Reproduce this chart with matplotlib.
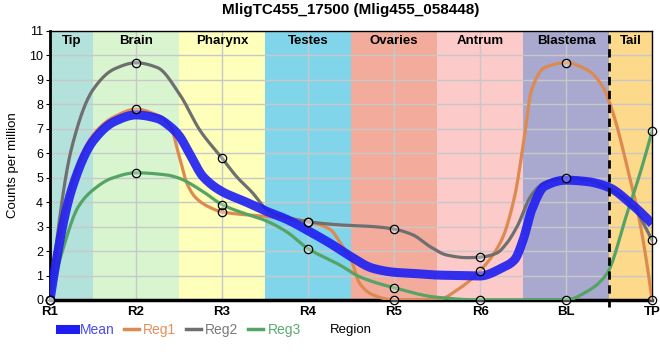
import matplotlib
matplotlib.use("Agg")
import matplotlib.pyplot as plt
import numpy as np
from matplotlib.lines import Line2D

plt.rcParams["font.family"] = ["Liberation Sans", "DejaVu Sans"]

regions = ["R1", "R2", "R3", "R4", "R5", "R6", "BL", "TP"]
reg1 = [0, 7.8, 3.6, 3.2, 0.0, 1.2, 9.7, 0.0]
reg2 = [0, 9.7, 5.8, 3.2, 2.9, 1.75, 5.0, 2.45]
reg3 = [0, 5.2, 3.9, 2.1, 0.5, 0.0, 0.0, 6.9]
mean = list(np.mean([reg1, reg2, reg3], axis=0))

# curve values read between the regions (smoothed line shape)
mean_kx = [0.25, 0.5, 0.75, 1.25, 1.4, 1.5, 1.62, 1.78, 2.25, 2.5, 2.75, 3.25, 3.5, 3.75, 4.25,
           4.5, 4.75, 5.25, 5.4, 5.5, 5.6, 5.75, 6.25, 6.5, 6.75]
mean_ky = [4.5, 6.5, 7.3, 7.42, 7.08, 6.72, 6.0, 5.04, 4.05, 3.65, 3.3, 2.33, 1.77, 1.3, 1.08,
           1.02, 1.0, 1.3, 1.64, 2.45, 3.68, 4.65, 4.84, 4.6, 3.95]
reg1_kx = [0.25, 0.5, 0.75, 1.25, 1.4, 1.5, 1.6, 1.7, 1.85, 2.5, 2.75, 3.25, 3.4, 3.5, 3.6, 3.76,
           4.5, 4.75, 5.25, 5.4, 5.5, 5.6, 5.75, 6.25, 6.43, 6.55, 6.71, 6.86]
reg1_ky = [4.7, 6.75, 7.5, 7.55, 7.1, 5.9, 4.7, 4.16, 3.8, 3.42, 3.33, 2.9, 2.2, 1.64, 0.68, 0.2,
           0.0, 0.45, 2.45, 4.2, 6.3, 8.6, 9.5, 9.4, 8.7, 7.6, 5.45, 3.14]
reg2_kx = [0.25, 0.5, 0.75, 1.25, 1.5, 1.75, 2.17, 2.36, 2.48, 2.56, 2.75, 3.37, 3.76, 4.22, 4.42,
           4.61, 4.85, 5.19, 5.31, 5.43, 5.6, 5.75, 6.25, 6.5, 6.78, 6.94]
reg2_ky = [6.2, 8.6, 9.45, 9.5, 8.45, 6.9, 5.04, 4.36, 3.84, 3.61, 3.38, 3.07, 3.0, 2.66, 2.18,
           1.84, 1.73, 1.91, 2.32, 3.0, 4.3, 4.8, 4.9, 4.55, 3.82, 2.86]
reg3_kx = [0.136, 0.33, 0.5, 0.72, 1.36, 1.5, 1.78, 2.25, 2.49, 2.75, 3.37, 3.6, 4.5,
           6.24, 6.47, 6.71, 6.86]
reg3_ky = [1.91, 3.82, 4.5, 4.98, 5.11, 4.98, 4.43, 3.55, 3.27, 2.79, 1.43, 0.95, 0.11,
           0.34, 1.05, 3.55, 5.18]

band_names = ["Tip", "Brain", "Pharynx", "Testes", "Ovaries", "Antrum", "Blastema", "Tail"]
band_edges = [0, 0.5, 1.5, 2.5, 3.5, 4.5, 5.5, 6.5, 7]
band_colors = ["#b3e2dd", "#d9f5d0", "#feffba", "#80d5ea", "#f3ab9c", "#fdcaca", "#a9a8cf", "#fdd98b"]


def pchip(x, y, n=30):
    x = np.asarray(x, float)
    y = np.asarray(y, float)
    h = np.diff(x)
    d = np.diff(y) / h
    m = np.zeros(len(y))
    for k in range(1, len(y) - 1):
        if d[k - 1] * d[k] > 0:
            w1 = 2 * h[k] + h[k - 1]
            w2 = h[k] + 2 * h[k - 1]
            m[k] = (w1 + w2) / (w1 / d[k - 1] + w2 / d[k])
    for k, (a, b, ha, hb) in [(0, (0, 1, 0, 1)), (-1, (-1, -2, -1, -2))]:
        s0, s1, h0, h1 = d[a], d[b], h[ha], h[hb]
        v = ((2 * h0 + h1) * s0 - h0 * s1) / (h0 + h1)
        if np.sign(v) != np.sign(s0):
            v = 0
        elif np.sign(s0) != np.sign(s1) and abs(v) > 3 * abs(s0):
            v = 3 * s0
        m[k] = v
    xs, ys = [], []
    for i in range(len(y) - 1):
        u = np.linspace(0, 1, n)
        xs.append(x[i] + u * h[i])
        ys.append((2 * u**3 - 3 * u**2 + 1) * y[i] + (u**3 - 2 * u**2 + u) * h[i] * m[i]
                  + (-2 * u**3 + 3 * u**2) * y[i + 1] + (u**3 - u**2) * h[i] * m[i + 1])
    return np.concatenate(xs), np.concatenate(ys)


def curve(vals, kx, ky):
    pts = sorted(list(zip(range(len(vals)), vals)) + list(zip(kx, ky)))
    return pchip([p[0] for p in pts], [p[1] for p in pts])


fig = plt.figure(figsize=(6.6, 3.6), dpi=100)
ax = fig.add_axes([0.0758, 0.1667, 0.9122, 0.7473])

for i, name in enumerate(band_names):
    ax.axvspan(band_edges[i], band_edges[i + 1], color=band_colors[i], zorder=0, lw=0)
    ax.text((band_edges[i] + band_edges[i + 1]) / 2, 10.82, name, ha="center", va="top",
            fontsize=9.5, fontweight="bold", zorder=5)

ax.grid(color="#c8c8c8", lw=1, zorder=1)
ax.set_axisbelow(True)

cols = {"Reg1": "#dd8a50", "Reg2": "#6f6f6f", "Reg3": "#55a465"}
for name, vals, kx, ky in [("Reg1", reg1, reg1_kx, reg1_ky), ("Reg2", reg2, reg2_kx, reg2_ky),
                           ("Reg3", reg3, reg3_kx, reg3_ky)]:
    xs, ys = curve(vals, kx, ky)
    ax.plot(xs, ys, color=cols[name], lw=2.3, zorder=3)
    ax.plot(range(len(vals)), vals, ls="none", marker="o", ms=6, mec="black", mew=0.9,
            mfc=(1, 1, 1, 0.3), zorder=6, clip_on=False)

xs, ys = curve(mean, mean_kx, mean_ky)
ax.plot(xs, ys, color="#1e1ef2", lw=6.5, alpha=0.9, zorder=4, solid_capstyle="butt")

ax.plot([6.5, 6.5], [-0.3, 11], color="black", ls=(0, (3, 2)), lw=2, zorder=7, clip_on=False)

ax.set_xlim(0, 7)
ax.set_ylim(0, 11)
ax.set_xticks(range(len(regions)))
ax.set_xticklabels(regions, fontweight="bold", fontsize=9.5)
ax.set_yticks(range(12))
ax.tick_params(axis="y", labelsize=9, length=3, pad=2)
ax.tick_params(axis="x", length=0, pad=4)
ax.spines["left"].set_linewidth(2)
ax.spines["bottom"].set_linewidth(2.5)
ax.spines["top"].set_linewidth(1)
ax.spines["right"].set_linewidth(1)
ax.set_ylabel("Counts per million", fontsize=9.5, labelpad=7)
ax.set_xlabel("Region", fontsize=9.5, labelpad=5)
ax.set_title("MligTC455_17500 (Mlig455_058448)", fontsize=11, fontweight="bold", pad=12)

handles = [Line2D([], [], color="#1e1ef2", lw=6.5),
           Line2D([], [], color=cols["Reg1"], lw=2.5),
           Line2D([], [], color=cols["Reg2"], lw=2.5),
           Line2D([], [], color=cols["Reg3"], lw=2.5)]
leg = fig.legend(handles, ["Mean", "Reg1", "Reg2", "Reg3"], loc="center left",
                 bbox_to_anchor=(0.081, 0.083), ncol=4, frameon=False, fontsize=10,
                 handlelength=1.08, handletextpad=0.3, columnspacing=0.7, borderpad=0)
for txt, c in zip(leg.get_texts(), ["#4a4af5", "#e58f5c", "#7a7a7a", "#5aaa6e"]):
    txt.set_color(c)

fig.savefig("out.png", dpi=100)
